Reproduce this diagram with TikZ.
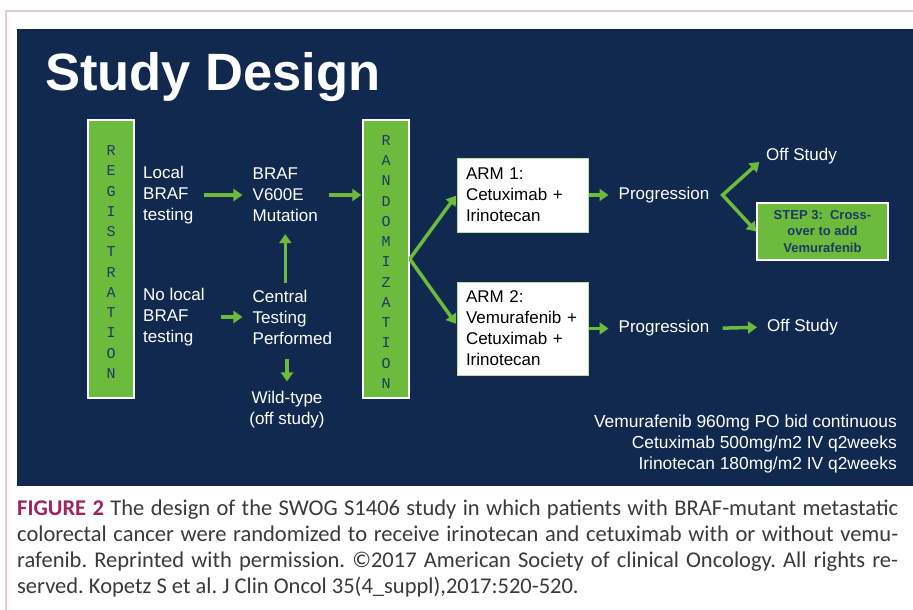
\documentclass[tikz,border=0pt]{standalone}
\usepackage{fontspec}
\setmainfont{Liberation Sans}
\setmonofont{Liberation Mono}
\newfontfamily\didascalia{Carlito}
\usetikzlibrary{positioning, arrows.meta}
\definecolor{blu}{HTML}{12294F}
\definecolor{verde}{HTML}{6CBB3C}
\definecolor{cornice}{HTML}{E3CCD5}
\definecolor{lettere}{HTML}{1F3864}
\definecolor{porpora}{HTML}{9E2460}
\definecolor{grigio}{HTML}{3A3A3A}
\tikzstyle{barra}=[rectangle, fill=verde, draw=white, line width=1.5pt, minimum width=46pt, minimum height=278pt, inner sep=0pt]
\tikzstyle{lettere}=[align=center, text=lettere, inner sep=0pt]
\tikzstyle{testo}=[align=left, text=white, inner sep=0pt]
\tikzstyle{braccio}=[rectangle, fill=white, draw=verde!45!white, line width=1pt, align=left, text width=113pt, inner xsep=9pt, inner ysep=0pt, minimum width=131pt]
\tikzstyle{passo}=[rectangle, fill=verde, draw=white, line width=1.5pt, align=center, text=lettere, minimum width=131pt, minimum height=57pt, inner sep=0pt]
\tikzstyle{freccia}=[-{Triangle[length=9pt, width=12pt]}, line width=3.5pt, draw=verde]
\tikzstyle{dfreccia}=[{Triangle[length=9pt, width=12pt]}-{Triangle[length=9pt, width=12pt]}, line width=3.5pt, draw=verde, line join=miter]
\newcommand{\dimg}{\fontsize{17}{21}\selectfont}
\newcommand{\dlett}{\fontsize{15}{20.25}\selectfont\ttfamily}

\begin{document}
\begin{tikzpicture}[x=1pt, y=1pt]
    \useasboundingbox (0,0) rectangle (913,-610);
    \fill [white] (0,0) rectangle (913,-610);
    \draw [cornice, line width=2pt] (6,-610) -- (6,-11.5) -- (913,-11.5);
    \fill [blu] (17,-29) rectangle (913,-486);

    \node [anchor=base west, text=white, font=\fontsize{52.5}{52}\selectfont\bfseries, inner sep=0pt] (titolo) at (45,-91) {Study Design};

    \node [barra] (reg) at (111,-259) {};
    \node [lettere, font=\dlett] (reglett) at (111,-262) {R\\E\\G\\I\\S\\T\\R\\A\\T\\I\\O\\N};
    \node [barra] (rand) at (386,-259) {};
    \node [lettere, font=\dlett] (randlett) at (386,-262) {R\\A\\N\\D\\O\\M\\I\\Z\\A\\T\\I\\O\\N};

    \node [testo, anchor=west, font=\dimg] (locale) at (143,-195) {Local\\BRAF\\testing};
    \node [testo, right = 59pt of locale, font=\dimg] (braf) {BRAF\\V600E\\Mutation};
    \draw [freccia, shorten <=11pt, shorten >=10pt] (locale.east) -- (braf.west);
    \draw [freccia, shorten <=11pt, shorten >=1pt] (braf.east) -- (braf.east -| rand.west);

    \node [testo, anchor=west, font=\dimg] (nolocale) at (143,-317) {No local\\BRAF\\testing};
    \node [testo, anchor=west, font=\dimg] (centrale) at (braf.west |- nolocale.west) {Central\\Testing\\Performed};
    \draw [freccia, shorten <=16pt, shorten >=10pt] (nolocale.east) -- (centrale.west);
    \draw [freccia, shorten <=7pt, shorten >=12pt] (centrale.north -| braf) -- (braf.south);

    \node [testo, align=center, font=\dimg] (wild) at (287,-410) {Wild-type\\(off study)};
    \draw [freccia, shorten <=15pt, shorten >=10pt] (centrale.south -| wild) -- (wild.north);

    \node [braccio, minimum height=74pt, font=\dimg] (arm1) at (522.5,-195) {ARM 1:\\Cetuximab +\\Irinotecan};
    \node [braccio, minimum height=93pt, font=\dimg] (arm2) at (522.5,-328.5) {ARM 2:\\Vemurafenib +\\Cetuximab +\\Irinotecan};
    \draw [freccia, shorten >=1pt] (rand.east) -- (arm1.west);
    \draw [freccia, shorten >=1pt] (rand.east) -- ([yshift=4pt]arm2.west);

    \node [testo, right = 30pt of arm1, font=\dimg] (prog1) {Progression};
    \node [testo, right = 30pt of arm2, font=\dimg] (prog2) {Progression};
    \draw [freccia, shorten >=10pt] (arm1.east) -- (prog1.west);
    \draw [freccia, shorten >=10pt] (arm2.east |- prog2.west) -- (prog2.west);

    \node [testo, anchor=west, font=\dimg] (off1) at (766,-156) {Off Study};
    \node [passo, font=\fontsize{13}{16.5}\selectfont\bfseries] (step3) at (822.5,-231.5) {STEP 3:~~Cross-\\over to add\\Vemurafenib};
    \coordinate [right = 13pt of prog1.east] (bivio);
    \draw [dfreccia, shorten <=9pt] (off1.west) -- (bivio) -- (step3.west);

    \node [testo, anchor=west, font=\dimg] (off2) at (767,-327) {Off Study};
    \draw [freccia, shorten <=13pt, shorten >=10pt] (prog2.east) -- (off2.west);

    \node [testo, align=right, anchor=east, font=\fontsize{17.4}{21}\selectfont] (dosi) at (897,-444) {Vemurafenib 960mg PO bid continuous\\Cetuximab 500mg/m2 IV q2weeks\\Irinotecan 180mg/m2 IV q2weeks};

    \node [anchor=north west, text width=881pt, align=justify, inner sep=0pt, text=grigio, font=\didascalia\fontsize{22.5}{26}\selectfont\frenchspacing] (didascalia) at (17,-500) {{\color{porpora}\bfseries FIGURE 2} The design of the SWOG S1406 study in which patients with BRAF-mutant metastatic\linebreak colorectal cancer were randomized to receive irinotecan and cetuximab with or without vemu-\linebreak rafenib. Reprinted with permission. ©2017 American Society of clinical Oncology. All rights re-\linebreak served. Kopetz S et al. J Clin Oncol 35(4\_suppl),2017:520-520.};
\end{tikzpicture}
\end{document}
